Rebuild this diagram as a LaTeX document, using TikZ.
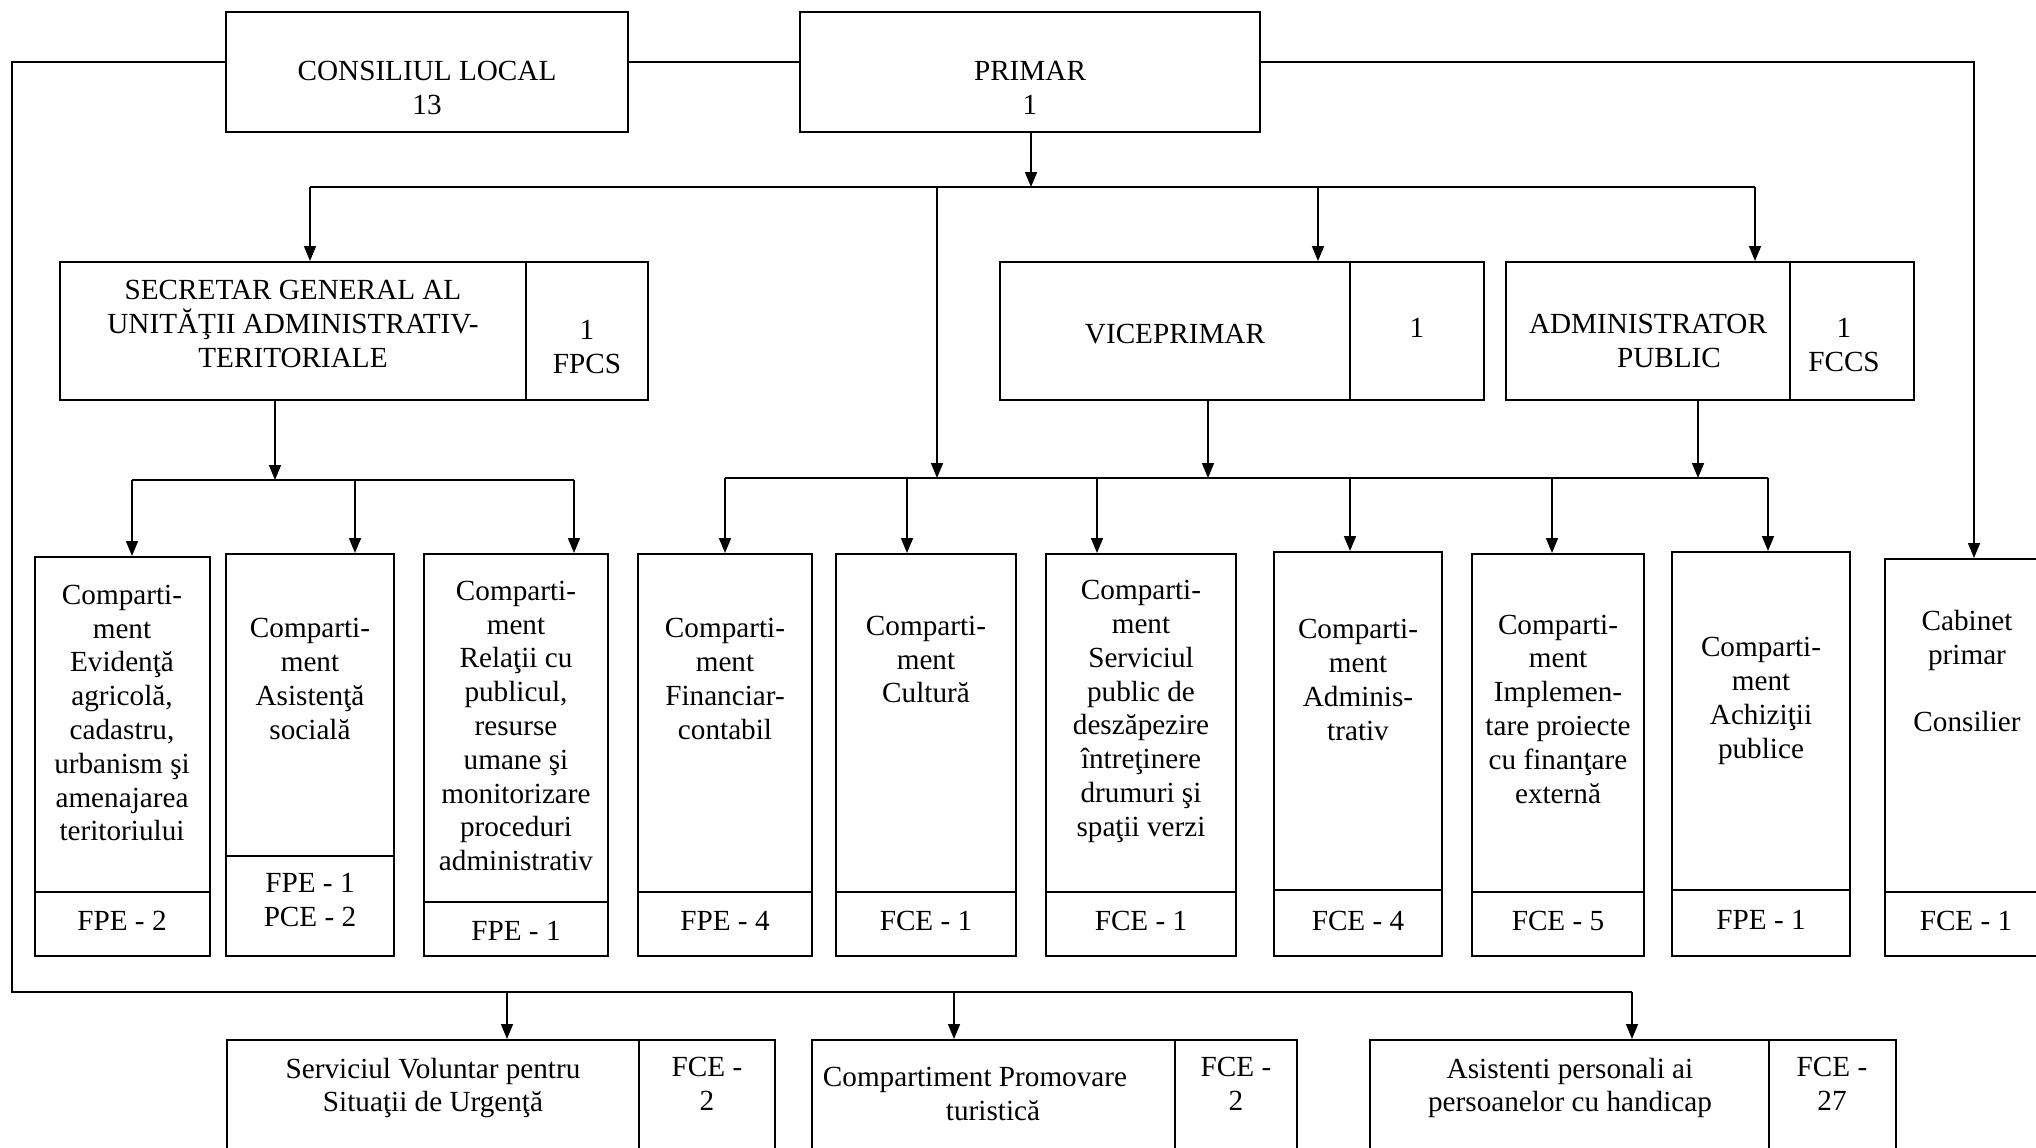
\documentclass[tikz,border=0pt]{standalone}
\usepackage{fontspec}
\setmainfont{Liberation Serif}
\usetikzlibrary{arrows.meta,fit}
\begin{document}
\begin{tikzpicture}[x=0.5pt,y=-0.5pt,
  box/.style={draw, line width=1pt, inner sep=0pt},
  txt/.style={align=center, inner sep=0pt, font=\fontsize{14.6}{16.9}\selectfont},
  conn/.style={line width=0.8pt},
  arr/.style={conn, -{Triangle[length=7.5pt,width=6pt]}}]
\useasboundingbox (0,0) rectangle (2036,1147);
\clip (0,0) rectangle (2036,1147);
\fill[white] (0,0) rectangle (2036,1147);

% top row
\node[box, fit={(226,12) (628,132)}] (cl) {};
\node[txt] (clt) at (427,88) {CONSILIUL LOCAL\\13};
\node[box, fit={(800,12) (1260,132)}] (pr) {};
\node[txt] (prt) at (1030,88) {PRIMAR\\1};

% second row
\node[box, fit={(60,262) (526,400)}] (sg) {};
\node[txt] (sgt) at (293,324) {SECRETAR GENERAL AL\\UNITĂŢII ADMINISTRATIV-\\TERITORIALE};
\node[box, fit={(526,262) (648,400)}] (sgn) {};
\node[txt] (sgnt) at (587,347) {1\\FPCS};
\node[box, fit={(1000,262) (1350,400)}] (vp) {};
\node[txt] (vpt) at (1175,334) {VICEPRIMAR};
\node[box, fit={(1350,262) (1484,400)}] (vpn) {};
\node[txt] (vpnt) at (1417,328) {1};
\node[box, fit={(1506,262) (1790,400)}] (ad) {};
\node[txt] (adt) at (1648,341) {ADMINISTRATOR\\\hspace*{21pt}PUBLIC};
\node[box, fit={(1790,262) (1914,400)}] (adn) {};
\node[txt] (adnt) at (1844,345) {1\\FCCS};

% compartments
\node[box, fit={(35,557) (210,892)}] (c1) {};
\node[box, fit={(35,892) (210,956)}] (f1) {};
\node[txt] (f1t) at (122,921) {FPE - 2};
\node[txt] (t1) at (122,713) {Comparti-\\ment\\Evidenţă\\agricolă,\\cadastru,\\urbanism şi\\amenajarea\\teritoriului};
\node[box, fit={(226,554) (394,856)}] (c2) {};
\node[box, fit={(226,856) (394,956)}] (f2) {};
\node[txt] (f2t) at (310,900) {FPE - 1\\PCE - 2};
\node[txt] (t2) at (310,679) {Comparti-\\ment\\Asistenţă\\socială};
\node[box, fit={(424,554) (608,902)}] (c3) {};
\node[box, fit={(424,902) (608,956)}] (f3) {};
\node[txt] (f3t) at (516,930.5) {FPE - 1};
\node[txt] (t3) at (516,726) {Comparti-\\ment\\Relaţii cu\\publicul,\\resurse\\umane şi\\monitorizare\\proceduri\\administrativ};
\node[box, fit={(638,554) (812,892)}] (c4) {};
\node[box, fit={(638,892) (812,956)}] (f4) {};
\node[txt] (f4t) at (725,921) {FPE - 4};
\node[txt] (t4) at (725,679) {Comparti-\\ment\\Financiar-\\contabil};
\node[box, fit={(836,554) (1016,892)}] (c5) {};
\node[box, fit={(836,892) (1016,956)}] (f5) {};
\node[txt] (f5t) at (926,921) {FCE - 1};
\node[txt] (t5) at (926,659.5) {Comparti-\\ment\\Cultură};
\node[box, fit={(1046,554) (1236,892)}] (c6) {};
\node[box, fit={(1046,892) (1236,956)}] (f6) {};
\node[txt] (f6t) at (1141,921) {FCE - 1};
\node[txt] (t6) at (1141,711.5) {Comparti-\\ment\\Serviciul\\public de\\deszăpezire\\întreţinere\\drumuri şi\\spaţii verzi};
\node[box, fit={(1274,552) (1442,890)}] (c7) {};
\node[box, fit={(1274,890) (1442,956)}] (f7) {};
\node[txt] (f7t) at (1358,921) {FCE - 4};
\node[txt] (t7) at (1358,680) {Comparti-\\ment\\Adminis-\\trativ};
\node[box, fit={(1472,554) (1644,892)}] (c8) {};
\node[box, fit={(1472,892) (1644,956)}] (f8) {};
\node[txt] (f8t) at (1558,921) {FCE - 5};
\node[txt] (t8) at (1558,709) {Comparti-\\ment\\Implemen-\\tare proiecte\\cu finanţare\\externă};
\node[box, fit={(1672,552) (1850,890)}] (c9) {};
\node[box, fit={(1672,890) (1850,956)}] (f9) {};
\node[txt] (f9t) at (1761,920) {FPE - 1};
\node[txt] (t9) at (1761,701) {Comparti-\\ment\\Achiziţii\\publice};
\node[box, fit={(1885,559) (2050,892)}] (c10) {};
\node[box, fit={(1885,892) (2050,956)}] (f10) {};
\node[txt] (f10t) at (1966,921) {FCE - 1};
\node[txt] (t10) at (1967,671) {Cabinet\\primar\\\mbox{}\\Consilier};

% bottom row
\node[box, fit={(227,1040) (639,1170)}] (sa) {};
\node[txt] (sat) at (433,1088) {Serviciul Voluntar pentru\\Situaţii de Urgenţă};
\node[box, fit={(639,1040) (775,1170)}] (san) {};
\node[txt] (sant) at (707,1084) {FCE -\\2};
\node[box, fit={(812,1040) (1175,1170)}] (sb) {};
\node[txt] (sbt) at (993,1094) {Compartiment Promovare\hspace*{18pt}\\turistică};
\node[box, fit={(1175,1040) (1297,1170)}] (sbn) {};
\node[txt] (sbnt) at (1236,1084) {FCE -\\2};
\node[box, fit={(1370,1040) (1769,1170)}] (sc) {};
\node[txt] (sct) at (1570,1088) {Asistenti personali ai\\persoanelor cu handicap};
\node[box, fit={(1769,1040) (1896,1170)}] (scn) {};
\node[txt] (scnt) at (1832,1084) {FCE -\\27};

% connectors: top
\coordinate (lt) at (12,62);
\coordinate (lb) at (12,992);
\coordinate (dA) at (507,992);
\coordinate (dB) at (954,992);
\coordinate (dC) at (1632,992);
\draw[conn] (cl.west |- lt) -- (lt) -- (lb) -- (dC);
\draw[conn] (cl.east |- lt) -- (pr.west |- lt);
\draw[arr] (dA) -- (dA |- sa.north);
\draw[arr] (dB) -- (dB |- sb.north);
\draw[arr] (dC) -- (dC |- sc.north);
\coordinate (rt) at (1974,62);
\draw[arr] (pr.east |- rt) -- (rt) -- (rt |- c10.north);

% primar bus
\coordinate (pb) at (1031,187);
\draw[arr] (pb |- pr.south) -- (pb);
\coordinate (b1L) at (310,187);
\coordinate (b1P) at (937,187);
\coordinate (b1V) at (1318,187);
\coordinate (b1R) at (1755,187);
\draw[conn] (b1L) -- (b1R);
\draw[arr] (b1L) -- (b1L |- sg.north);
\draw[arr] (b1V) -- (b1V |- vp.north);
\draw[arr] (b1R) -- (b1R |- ad.north);
\coordinate (b2P) at (937,478);
\draw[arr] (b1P) -- (b2P);

% secretar bus
\coordinate (s2) at (275,480);
\coordinate (s2L) at (132,480);
\coordinate (s2M) at (355,480);
\coordinate (s2R) at (574,480);
\draw[arr] (s2 |- sg.south) -- (s2);
\draw[conn] (s2L) -- (s2R);
\draw[arr] (s2L) -- (s2L |- c1.north);
\draw[arr] (s2M) -- (s2M |- c2.north);
\draw[arr] (s2R) -- (s2R |- c3.north);

% second bus
\coordinate (b2a) at (725,478);
\coordinate (b2b) at (907,478);
\coordinate (b2c) at (1097,478);
\coordinate (b2d) at (1350,478);
\coordinate (b2e) at (1552,478);
\coordinate (b2f) at (1768,478);
\coordinate (b2V) at (1208,478);
\coordinate (b2A) at (1698,478);
\draw[conn] (b2a) -- (b2f);
\draw[arr] (b2V |- vp.south) -- (b2V);
\draw[arr] (b2A |- ad.south) -- (b2A);
\draw[arr] (b2a) -- (b2a |- c4.north);
\draw[arr] (b2b) -- (b2b |- c5.north);
\draw[arr] (b2c) -- (b2c |- c6.north);
\draw[arr] (b2d) -- (b2d |- c7.north);
\draw[arr] (b2e) -- (b2e |- c8.north);
\draw[arr] (b2f) -- (b2f |- c9.north);
\end{tikzpicture}
\end{document}
